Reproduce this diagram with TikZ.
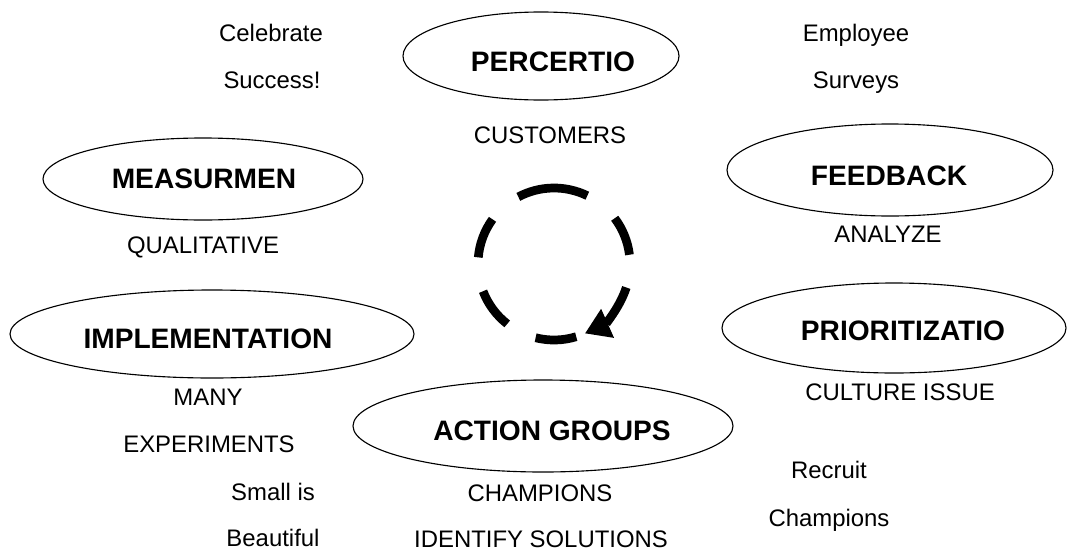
\documentclass[tikz,border=0pt]{standalone}
\usepackage{fontspec}
\setmainfont{Liberation Sans}
\usetikzlibrary{arrows.meta}
\tikzset{
  stage/.style={font=\fontsize{20}{24}\selectfont\bfseries, anchor=base, inner sep=0pt},
  note/.style={font=\fontsize{17}{20}\selectfont, anchor=base, inner sep=0pt},
  oval/.style={line width=0.8pt},
  loop/.style={line width=6.2pt},
}
\begin{document}
\begin{tikzpicture}[x=0.025cm,y=-0.025cm]
\useasboundingbox (0,0) rectangle (1069,552);
% the six ovals
\draw[oval] (541,56) ellipse (138 and 44);
\draw[oval] (203,179) ellipse (160 and 41);
\draw[oval] (890,170) ellipse (163 and 46);
\draw[oval] (212,334) ellipse (202 and 44);
\draw[oval] (894,328) ellipse (172 and 45);
\draw[oval] (543,426) ellipse (190 and 46);
\node[stage] (perc) at (553,71) {PERCERTIO};
\node[stage] (meas) at (204,188) {MEASURMEN};
\node[stage] (feed) at (889,185) {FEEDBACK};
\node[stage] (impl) at (208,348) {IMPLEMENTATION};
\node[stage] (prio) at (903,340) {PRIORITIZATIO};
\node[stage] (action) at (552,440) {ACTION GROUPS};
% notes
\node[note] (celeb) at (271,41) {Celebrate};
\node[note] (success) at (272,88) {Success!};
\node[note] (employee) at (856,41) {Employee};
\node[note] (surveys) at (856,88) {Surveys};
\node[note] (custom) at (550,143) {CUSTOMERS};
\node[note] (qual) at (203,253) {QUALITATIVE};
\node[note] (anal) at (888,242) {ANALYZE};
\node[note] (cult) at (900,400) {CULTURE ISSUE};
\node[note] (many) at (208,405) {MANY};
\node[note] (exper) at (209,452) {EXPERIMENTS};
\node[note] (small) at (273,500) {Small is};
\node[note] (beaut) at (273,546) {Beautiful};
\node[note] (champ) at (540,501) {CHAMPIONS};
\node[note] (ident) at (541,547) {IDENTIFY SOLUTIONS};
\node[note] (recruit) at (829,478) {Recruit};
\node[note] (champs) at (829,526) {Champions};
% dashed loop
\pgfmathsetmacro{\cx}{554}
\pgfmathsetmacro{\cy}{264}
\pgfmathsetmacro{\rad}{76}
\foreach \a/\b in {-37/-7,-118/-64,-175/-144,-232/-201,-287/-256}
  \draw[loop] (\cx,\cy) ++(\a:\rad) arc[start angle=\a, end angle=\b, radius=\rad];
\draw[loop,-{Triangle[length=0.62cm,width=0.75cm]}] (\cx,\cy) ++(18:\rad) arc[start angle=18, end angle=66, radius=\rad];
\end{tikzpicture}
\end{document}
